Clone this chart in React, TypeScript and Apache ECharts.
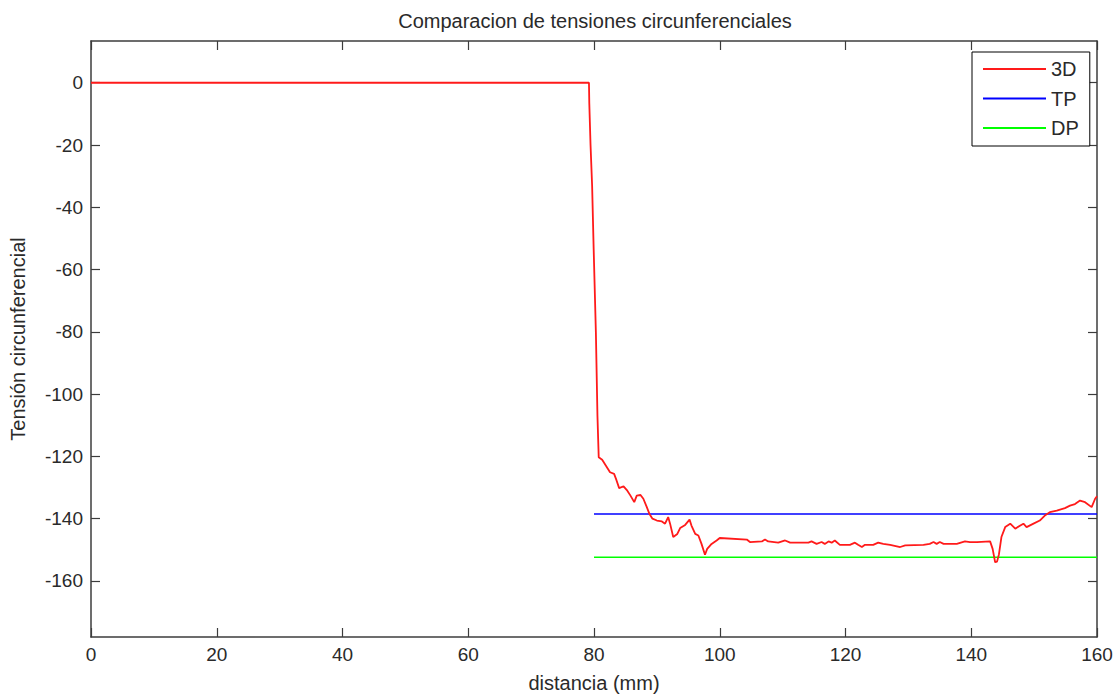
import { useEffect, useRef } from "react";
import * as echarts from "echarts";

const TITLE = "Comparacion de tensiones circunferenciales";
const X_NAME = "distancia (mm)";
const Y_NAME = "Tensión circunferencial";
const SERIES_NAMES = ["3D", "TP", "DP"];

const X_3D = [
  0, 79.2, 79.25, 79.45, 79.7, 79.95, 80.3, 80.55, 80.7, 80.75, 81.3, 81.9, 82.55, 83.2, 83.6, 84.0,
  84.7, 85.3, 85.8, 86.4, 86.8, 87.4, 87.85, 88.4, 88.8, 89.3, 90.0, 90.8, 91.3, 91.8, 92.1, 92.6,
  93.25, 93.7, 94.5, 95.2, 95.5, 96.1, 96.6, 97.1, 97.65, 98.0, 98.7, 99.5, 100.0, 104.3, 104.8,
  106.7, 107.2, 107.7, 109.3, 110.4, 111.2, 114.1, 114.6, 115.4, 116.2, 116.7, 117.3, 117.8, 118.3,
  119.1, 120.7, 121.5, 122.0, 122.6, 123.1, 124.4, 125.2, 126.0, 127.1, 128.7, 129.5, 132.4, 133.4,
  134.0, 134.5, 135.0, 135.6, 137.7, 139.0, 139.8, 140.9, 143.0, 143.4, 143.8, 144.1, 144.4, 144.8,
  145.4, 146.2, 147.0, 147.8, 148.3, 148.8, 149.9, 150.9, 151.7, 152.5, 153.6, 154.9, 155.7, 156.5,
  157.3, 158.1, 159.15, 159.7, 160,
];
const Y_3D = [
  0, 0, -6.5, -20, -33, -53.6, -80.2, -107, -117, -120.3, -121.1, -123.0, -125.1, -125.6, -127.8, -130.2,
  -129.6, -131.0, -132.6, -134.7, -132.6, -132.4, -133.6, -136.3, -138.4, -140.0, -140.6, -140.9, -141.6, -139.5, -141.6, -145.9,
  -144.9, -143.0, -142.0, -140.3, -142.2, -144.9, -145.4, -148.1, -151.6, -149.7, -148.1, -147.0, -146.2, -146.7, -147.5,
  -147.3, -146.7, -147.3, -147.7, -147.0, -147.7, -147.7, -147.3, -148.1, -147.5, -148.1, -147.3, -147.7, -147.0,
  -148.4, -148.4, -147.7, -148.4, -149.1, -148.4, -148.4, -147.7, -148.1, -148.4, -149.1, -148.6, -148.4, -148.1,
  -147.5, -148.1, -147.5, -148.1, -148.1, -147.3, -147.5, -147.5, -147.3, -149.7, -154.0, -153.8, -151.5, -145.9,
  -142.7, -141.6, -143.2, -142.2, -141.6, -142.7, -141.6, -140.6, -139.0, -137.9, -137.4, -136.6, -135.8, -135.3,
  -134.2, -134.7, -136.3, -133.6, -132.8,
];
const X_TP = [80, 160];
const Y_TP = [-138.5, -138.5];
const X_DP = [80, 160];
const Y_DP = [-152.4, -152.4];

const Y_TICKS = [0, -20, -40, -60, -80, -100, -120, -140, -160];
const X_MIN = 0;
const X_MAX = 160;
const X_STEP = 20;
const Y_MIN = -178;
const Y_MAX = 13.4;

const FONT = "'Liberation Sans', Arial, sans-serif";
const TEXT_COLOR = "#2a2a2a";
const AXIS_COLOR = "#3c3c3c";

const pairs = (xs: number[], ys: number[]) => xs.map((x, i) => [x, ys[i]]);

export default function App() {
  const ref = useRef<HTMLDivElement>(null);
  useEffect(() => {
    const chart = echarts.init(ref.current!, null, { renderer: "svg" });
    const axisLine = { show: true, onZero: false, lineStyle: { color: AXIS_COLOR, width: 1.5 } };
    const tickInside = { inside: true, length: 9, lineStyle: { color: AXIS_COLOR, width: 1.2 } };
    chart.setOption({
      animation: false,
      backgroundColor: "#ffffff",
      textStyle: { fontFamily: FONT },
      title: {
        text: TITLE,
        left: 590,
        top: 6,
        textAlign: "center",
        textStyle: { fontFamily: FONT, fontSize: 20, fontWeight: "normal", color: TEXT_COLOR },
      },
      grid: { left: 91, right: 23, top: 41, bottom: 59.3, containLabel: false },
      legend: {
        orient: "vertical",
        left: 972,
        top: 52,
        padding: [7, 11, 8, 11],
        itemWidth: 63,
        itemHeight: 2,
        itemGap: 9.5,
        icon: "rect",
        borderColor: "#000",
        borderWidth: 1,
        backgroundColor: "#fff",
        textStyle: { fontFamily: FONT, fontSize: 20, color: TEXT_COLOR },
        data: SERIES_NAMES,
      },
      xAxis: [
        {
          type: "value",
          min: X_MIN,
          max: X_MAX,
          interval: X_STEP,
          name: X_NAME,
          nameLocation: "middle",
          nameGap: 36,
          nameTextStyle: { fontFamily: FONT, fontSize: 20, color: TEXT_COLOR },
          axisLine,
          axisTick: tickInside,
          axisLabel: { fontFamily: FONT, fontSize: 19, color: TEXT_COLOR, margin: 8 },
          splitLine: { show: false },
        },
        {
          type: "value",
          position: "top",
          min: X_MIN,
          max: X_MAX,
          interval: X_STEP,
          axisLine,
          axisTick: tickInside,
          axisLabel: { show: false },
          splitLine: { show: false },
        },
      ],
      yAxis: [
        {
          type: "value",
          min: Y_MIN,
          max: Y_MAX,
          name: Y_NAME,
          nameLocation: "middle",
          nameGap: 63,
          nameRotate: 90,
          nameTextStyle: { fontFamily: FONT, fontSize: 20, color: TEXT_COLOR },
          axisLine,
          axisTick: { ...tickInside, customValues: Y_TICKS },
          axisLabel: { fontFamily: FONT, fontSize: 19, color: TEXT_COLOR, margin: 8, customValues: Y_TICKS },
          splitLine: { show: false },
        },
        {
          type: "value",
          position: "right",
          min: Y_MIN,
          max: Y_MAX,
          axisLine,
          axisTick: { ...tickInside, customValues: Y_TICKS },
          axisLabel: { show: false, customValues: Y_TICKS },
          splitLine: { show: false },
        },
      ],
      series: [
        {
          name: SERIES_NAMES[0],
          type: "line",
          data: pairs(X_3D, Y_3D),
          showSymbol: false,
          symbol: "none",
          color: "#ff1a1a",
          lineStyle: { color: "#ff1a1a", width: 1.8 },
          z: 3,
        },
        {
          name: SERIES_NAMES[1],
          type: "line",
          data: pairs(X_TP, Y_TP),
          showSymbol: false,
          symbol: "none",
          color: "#0000ff",
          lineStyle: { color: "#0000ff", width: 1.6 },
          z: 2,
        },
        {
          name: SERIES_NAMES[2],
          type: "line",
          data: pairs(X_DP, Y_DP),
          showSymbol: false,
          symbol: "none",
          color: "#00ff00",
          lineStyle: { color: "#00ff00", width: 1.6 },
          z: 2,
        },
      ],
    });
    return () => chart.dispose();
  }, []);
  return (
    <div
      ref={ref}
      style={{ position: "fixed", left: 0, top: 0, width: 1120, height: 698, background: "#fff" }}
    />
  );
}
